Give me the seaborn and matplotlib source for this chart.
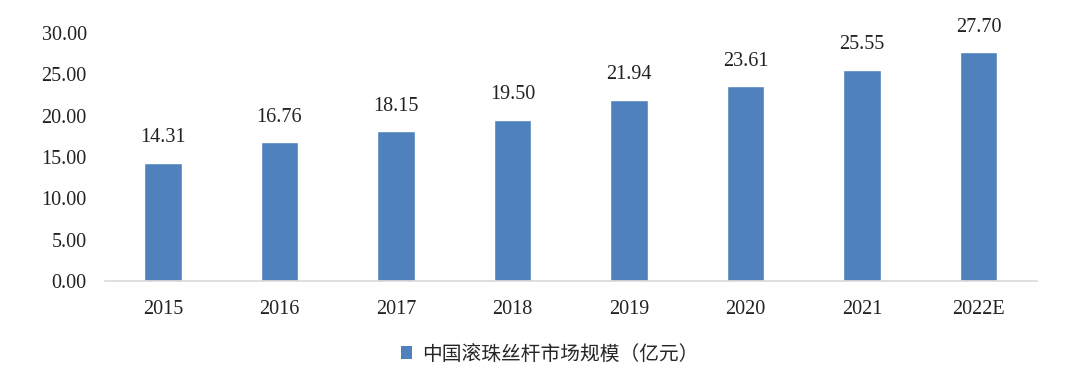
import matplotlib
matplotlib.use("Agg")
import matplotlib.pyplot as plt
import pandas as pd
import seaborn as sns
from matplotlib.patches import Patch

years = ["2015", "2016", "2017", "2018", "2019", "2020", "2021", "2022E"]
market_size = [14.31, 16.76, 18.15, 19.50, 21.94, 23.61, 25.55, 27.70]
series_name = "中国滚珠丝杆市场规模（亿元）"
y_ticks = [0, 5, 10, 15, 20, 25, 30]

sns.set_theme(style="white")
plt.rcParams["font.family"] = ["Liberation Serif", "Noto Sans CJK SC"]

df = pd.DataFrame({"year": years, "value": market_size})

fig = plt.figure(figsize=(10.8, 3.77), dpi=100)
ax = fig.add_axes([0.097, 0.2546, 0.863, 0.658])
bar_color = "#4F81BD"
sns.barplot(data=df, x="year", y="value", color=bar_color, width=0.32,
            saturation=1, ax=ax)

for c in ax.containers:
    ax.bar_label(c, fmt="%.2f", padding=11, fontsize=14.5, color="#222222")

ax.set_ylim(0, 30)
ax.set_xlim(-0.5, len(years) - 0.5)
ax.set_yticks(y_ticks)
ax.set_yticklabels([f"{t:.2f}" for t in y_ticks])
ax.set_xlabel("")
ax.set_ylabel("")
ax.tick_params(axis="both", labelsize=14.5, colors="#222222", length=0)
ax.tick_params(axis="y", pad=13)
ax.tick_params(axis="x", pad=14)
for side in ["top", "right", "left"]:
    ax.spines[side].set_visible(False)
ax.spines["bottom"].set_color("#D9D9D9")
ax.spines["bottom"].set_linewidth(1.2)

handle = Patch(facecolor=bar_color, edgecolor="none", label=series_name)
fig.legend(handles=[handle], loc="center", bbox_to_anchor=(0.509, 0.061),
           frameon=False, handlelength=0.6, handleheight=0.6, handletextpad=0.5,
           prop={"family": ["Noto Sans CJK SC"], "size": 14.2})

fig.savefig("out.png", dpi=100)
